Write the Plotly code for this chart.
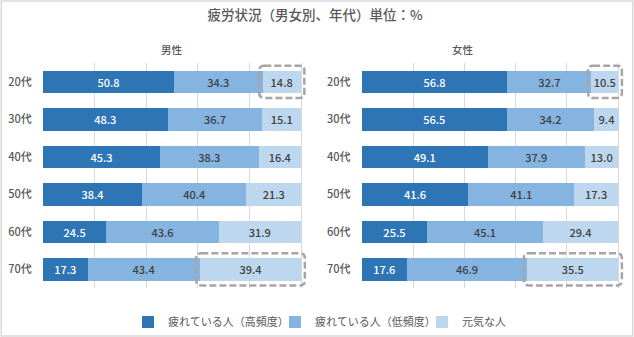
import plotly.graph_objects as go
from plotly.subplots import make_subplots

categories = ["20代", "30代", "40代", "50代", "60代", "70代"]
series_names = ["疲れている人（高頻度）", "疲れている人（低頻度）", "元気な人"]
male_high = [50.8, 48.3, 45.3, 38.4, 24.5, 17.3]
male_low = [34.3, 36.7, 38.3, 40.4, 43.6, 43.4]
male_fine = [14.8, 15.1, 16.4, 21.3, 31.9, 39.4]
female_high = [56.8, 56.5, 49.1, 41.6, 25.5, 17.6]
female_low = [32.7, 34.2, 37.9, 41.1, 45.1, 46.9]
female_fine = [10.5, 9.4, 13.0, 17.3, 29.4, 35.5]
highlight_ages = ["20代", "70代"]

colors = ["#2E75B6", "#85B4E1", "#BDD7EE"]
text_colors = ["#FFFFFF", "#404040", "#404040"]
FONT = "Noto Sans CJK JP"
GRAY = "#595959"

fig = make_subplots(rows=1, cols=2, horizontal_spacing=0.05)

panels = [
    (1, [male_high, male_low, male_fine]),
    (2, [female_high, female_low, female_fine]),
]
for col, vals in panels:
    for i, (name, v) in enumerate(zip(series_names, vals)):
        fig.add_trace(
            go.Bar(
                y=categories, x=v, name=name, orientation="h",
                marker=dict(color=colors[i], line=dict(width=0)),
                texttemplate="%{x:.1f}", textposition="inside",
                insidetextanchor="middle", constraintext="none",
                textfont=dict(family=FONT, size=11, color=text_colors[i], weight=500),
                showlegend=(col == 1), legendgroup=name, width=0.6,
                hoverinfo="x+y+name",
            ),
            row=1, col=col,
        )

fig.update_layout(barmode="stack")

# rounded dashed highlight boxes around the "元気な人" segment
def rounded_path(x0, x1, y0, y1, rx, ry):
    return (f"M{x0+rx},{y0} L{x1-rx},{y0} Q{x1},{y0} {x1},{y0+ry} "
            f"L{x1},{y1-ry} Q{x1},{y1} {x1-rx},{y1} L{x0+rx},{y1} "
            f"Q{x0},{y1} {x0},{y1-ry} L{x0},{y0+ry} Q{x0},{y0} {x0+rx},{y0} Z")

for col, vals in panels:
    axn = "" if col == 1 else "2"
    for age in highlight_ages:
        idx = categories.index(age)
        start = vals[0][idx] + vals[1][idx]
        end = start + vals[2][idx]
        fig.add_shape(
            type="path", xref="x" + axn, yref="y" + axn,
            path=rounded_path(start - 1.3, end + 1.4, idx - 0.43, idx + 0.43, 2.0, 0.13),
            line=dict(color="#A6A6A6", width=2.5, dash="7px,3px"),
            fillcolor="rgba(0,0,0,0)", layer="above",
        )

W, H = 634, 337
XMAX = 104
x_dom1 = [43 / W, (43 + 2.58 * XMAX) / W]
x_dom2 = [361.7 / W, (361.7 + 2.566 * XMAX) / W]
for col, dom in [(1, x_dom1), (2, x_dom2)]:
    fig.update_xaxes(
        domain=dom, range=[0, XMAX], tickvals=[0, 20, 40, 60, 80, 100], showgrid=True,
        gridcolor="#D9D9D9", gridwidth=1, zeroline=False,
        showticklabels=False, showline=False, row=1, col=col,
    )
    fig.update_yaxes(
        type="category", autorange="reversed", showgrid=False,
        tickfont=dict(family=FONT, size=11, color=GRAY, weight=500),
        ticks="outside", ticklen=8, tickcolor="rgba(0,0,0,0)",
        showline=False, domain=[1 - 288 / H, 1 - 63 / H], row=1, col=col,
    )

fig.add_annotation(text="男性", x=158.5 / W, y=1 - 40 / H, xref="paper", yref="paper",
                   showarrow=False, font=dict(family=FONT, size=10.5, color=GRAY, weight=500))
fig.add_annotation(text="女性", x=476 / W, y=1 - 40 / H, xref="paper", yref="paper",
                   showarrow=False, font=dict(family=FONT, size=10.5, color=GRAY, weight=500))

# outer frame
fig.add_shape(type="rect", xref="paper", yref="paper", x0=0.002, x1=0.998, y0=0.003, y1=0.997,
              line=dict(color="#D9D9D9", width=1.5), fillcolor="rgba(0,0,0,0)", layer="below")

fig.update_layout(
    width=W, height=H,
    margin=dict(l=0, r=0, t=0, b=0),
    paper_bgcolor="white", plot_bgcolor="white",
    title=dict(text="疲労状況（男女別、年代）単位：%", x=0.497, xanchor="center",
               y=1 - 15 / H, yanchor="middle",
               font=dict(family=FONT, size=13.5, color=GRAY, weight=500)),
    legend=dict(orientation="h", x=128 / W, xanchor="left", y=1 - 322 / H, yanchor="middle",
                font=dict(family=FONT, size=11, color=GRAY), traceorder="normal",
                itemwidth=30, entrywidth=102, entrywidthmode="pixels",
                bgcolor="rgba(0,0,0,0)"),
    font=dict(family=FONT),
)

fig.write_html("out.html")
